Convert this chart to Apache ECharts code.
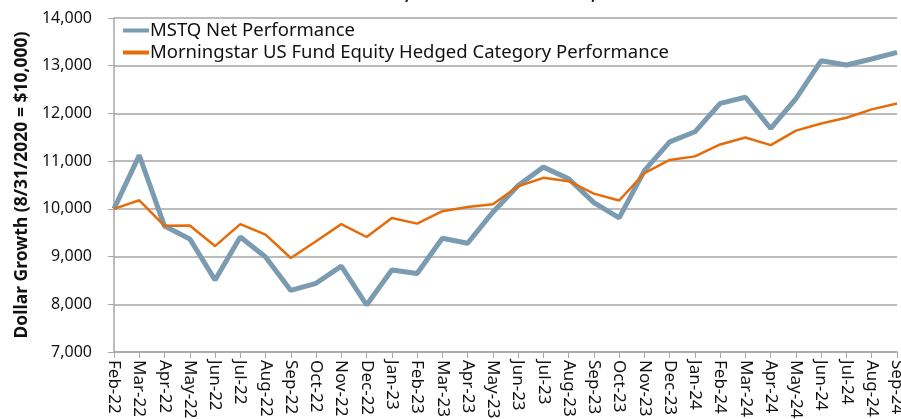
<!DOCTYPE html>
<html>
<head>
<meta charset="utf-8">
<script src="https://cdn.jsdelivr.net/npm/echarts@6/dist/echarts.min.js"></script>
<style>
  html, body { margin: 0; padding: 0; background: #fff; }
  #chart { width: 901px; height: 419px; }
</style>
</head>
<body>
<div id="chart"></div>
<script>
// months on the x axis
var months = ['Feb-22', 'Mar-22', 'Apr-22', 'May-22', 'Jun-22', 'Jul-22', 'Aug-22', 'Sep-22',
  'Oct-22', 'Nov-22', 'Dec-22', 'Jan-23', 'Feb-23', 'Mar-23', 'Apr-23', 'May-23',
  'Jun-23', 'Jul-23', 'Aug-23', 'Sep-23', 'Oct-23', 'Nov-23', 'Dec-23', 'Jan-24',
  'Feb-24', 'Mar-24', 'Apr-24', 'May-24', 'Jun-24', 'Jul-24', 'Aug-24', 'Sep-24']

// MSTQ Net Performance
var mstq = [10000, 11120, 9640, 9370, 8510, 9410, 8990, 8290,
  8440, 8800, 7985, 8720, 8645, 9385, 9280, 9930,
  10490, 10875, 10630, 10130, 9810, 10800, 11405, 11615,
  12210, 12340, 11685, 12310, 13105, 13015, 13140, 13280]

// Morningstar US Fund Equity Hedged Category Performance
var category = [10000, 10180, 9645, 9650, 9220, 9680, 9460, 8970,
  9320, 9680, 9410, 9810, 9690, 9950, 10040, 10095,
  10475, 10650, 10580, 10320, 10175, 10750, 11025, 11100,
  11350, 11495, 11335, 11640, 11790, 11910, 12085, 12210]

var chart = echarts.init(document.getElementById('chart'))
var font = 'Noto Sans'

var option = {
  animation: false,
  title: {
    text: 'March 17, 2022 \u2013 December 31, 2024',
    left: 318,
    top: -19,
    textStyle: { fontFamily: font, fontSize: 18, fontWeight: 'bold', color: '#222' }
  },
  legend: {
    orient: 'vertical',
    left: 118,
    top: 16,
    itemGap: 3,
    itemWidth: 26,
    itemHeight: 4,
    icon: 'rect',
    textStyle: { fontFamily: font, fontSize: 18.5, color: '#111', padding: [0, 0, 0, -4] },
    data: ['MSTQ Net Performance', 'Morningstar US Fund Equity Hedged Category Performance']
  },
  grid: { left: 114, right: 4, top: 18, bottom: 67, outerBoundsMode: 'none' },
  xAxis: {
    type: 'category',
    data: months,
    boundaryGap: false,
    axisLine: { lineStyle: { color: '#a6a6a6', width: 1.5 } },
    axisTick: { alignWithLabel: true, length: 6, lineStyle: { color: '#a6a6a6' } },
    axisLabel: { rotate: -90, interval: 0, margin: 8, fontFamily: font, fontSize: 17, color: '#111' }
  },
  yAxis: {
    type: 'value',
    min: 7000,
    max: 14000,
    interval: 1000,
    name: 'Dollar Growth (8/31/2020 = $10,000)',
    nameLocation: 'middle',
    nameGap: 83,
    nameTextStyle: { fontFamily: font, fontSize: 17.5, fontWeight: 'bold', color: '#111' },
    axisLine: { show: true, lineStyle: { color: '#a6a6a6', width: 1.5 } },
    axisTick: { show: true, length: 6, lineStyle: { color: '#a6a6a6' } },
    axisLabel: {
      fontFamily: font, fontSize: 16, color: '#111', margin: 22,
      formatter: function (v) { return v.toLocaleString('en-US') }
    },
    splitLine: { lineStyle: { color: '#a6a6a6', width: 1.5 } }
  },
  series: [
    {
      name: 'MSTQ Net Performance',
      type: 'line',
      data: mstq,
      symbol: 'none',
      color: '#7b9bb0',
      lineStyle: { width: 5, color: '#7b9bb0' }
    },
    {
      name: 'Morningstar US Fund Equity Hedged Category Performance',
      type: 'line',
      data: category,
      symbol: 'none',
      color: '#e46c0a',
      lineStyle: { width: 2.5, color: '#e46c0a' }
    }
  ]
}
chart.setOption(option)
</script>
</body>
</html>
